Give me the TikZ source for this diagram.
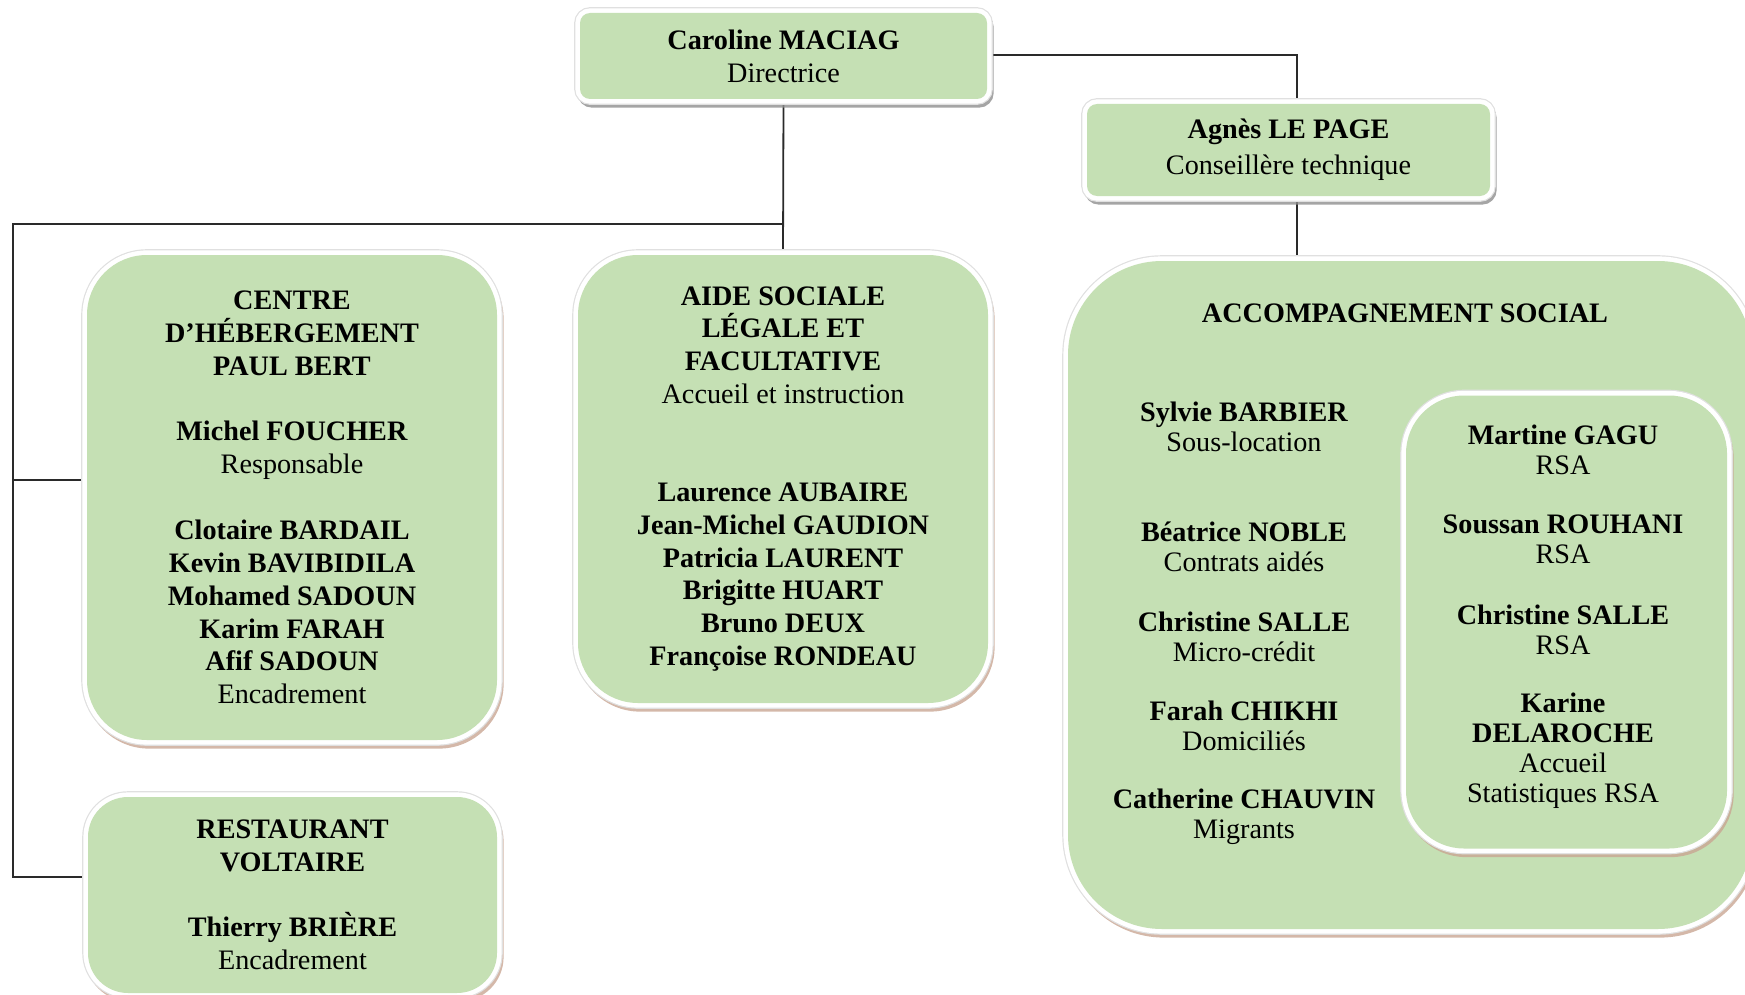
\documentclass[tikz,border=0pt]{standalone}
\usepackage{fontspec}
\setmainfont{Liberation Serif}
\usetikzlibrary{shadows,backgrounds}
\definecolor{boxgreen}{HTML}{C5E0B4}
\definecolor{shbrown}{HTML}{C9A693}
\definecolor{shgrey}{HTML}{8E8E8E}
\definecolor{linecol}{HTML}{2A2A2A}
\newcommand\mainfs{\fontsize{14.1}{16.45}\selectfont}
\newcommand\groupfs{\fontsize{14.1}{15}\selectfont}
\begin{document}
\begin{tikzpicture}[x=0.5pt,y=-0.5pt,
  every node/.style={inner sep=0pt, outer sep=0pt},
  framed/.style={fill=boxgreen,
    general shadow={fill=#1, draw=#1, line width=4.6pt, shadow xshift=1pt, shadow yshift=-2pt, opacity=0.8},
    preaction={draw=black!12, line width=5.8pt},
    preaction={draw=white, line width=4.6pt}},
  smallbox/.style={framed=shgrey, rounded corners=5pt, align=center, font=\mainfs},
  bigbox/.style={framed=shbrown, rounded corners=30pt, align=center, font=\mainfs},
  txt/.style={align=center, font=\groupfs},
  link/.style={draw=linecol, line width=0.9pt}]
\path[use as bounding box, clip] (0,0) rectangle (1745,995);

% boxes
\node[smallbox, minimum width=203.5pt, minimum height=43pt] (top) at (783.5,56)
  {\textbf{Caroline MACIAG}\\Directrice};
\node[smallbox, minimum width=201.5pt, minimum height=46pt] (agnes) at (1288.5,150)
  {\textbf{Agnès LE PAGE}\\[1.5pt]Conseillère technique};
\node[bigbox, minimum width=205pt, minimum height=242.5pt] (centre) at (292,497.5)
  {\textbf{CENTRE}\\\textbf{D’HÉBERGEMENT}\\\textbf{PAUL BERT}\\[16.3pt]
   \textbf{Michel FOUCHER}\\Responsable\\[16.3pt]
   \textbf{Clotaire BARDAIL}\\\textbf{Kevin BAVIBIDILA}\\\textbf{Mohamed SADOUN}\\
   \textbf{Karim FARAH}\\\textbf{Afif SADOUN}\\Encadrement};
\node[bigbox, minimum width=205pt, minimum height=224pt] (aide) at (783,479)
  {\textbf{AIDE SOCIALE}\\\textbf{LÉGALE ET}\\\textbf{FACULTATIVE}\\Accueil et instruction\\[32.3pt]
   \textbf{Laurence AUBAIRE}\\\textbf{Jean-Michel GAUDION}\\\textbf{Patricia LAURENT}\\
   \textbf{Brigitte HUART}\\\textbf{Bruno DEUX}\\\textbf{Françoise RONDEAU}};
\node[bigbox, rounded corners=20pt, minimum width=204.5pt, minimum height=98pt] (rest) at (292.5,895)
  {\textbf{RESTAURANT}\\\textbf{VOLTAIRE}\\[16.3pt]\textbf{Thierry BRIÈRE}\\Encadrement};
\node[bigbox, rounded corners=47pt, minimum width=342pt, minimum height=334pt] (acc) at (1410,595) {};
\node[bigbox, rounded corners=29pt, minimum width=160.5pt, minimum height=226.5pt] (accin) at (1566.5,622) {};

% texts in ACCOMPAGNEMENT SOCIAL
\node[txt] (acctitle) at (1405,313) {\textbf{ACCOMPAGNEMENT SOCIAL}};
\node[txt] (p1) at (1244,427) {\textbf{Sylvie BARBIER}\\Sous-location};
\node[txt] (p2) at (1244,547) {\textbf{Béatrice NOBLE}\\Contrats aidés};
\node[txt] (p3) at (1244,636.5) {\textbf{Christine SALLE}\\Micro-crédit};
\node[txt] (p4) at (1244,726) {\textbf{Farah CHIKHI}\\Domiciliés};
\node[txt] (p5) at (1244,816.5) {\textbf{Catherine CHAUVIN}\\Migrants};
\node[txt] (r1) at (1563,449.5) {\textbf{Martine GAGU}\\RSA};
\node[txt] (r2) at (1563,539.5) {\textbf{Soussan ROUHANI}\\RSA};
\node[txt] (r3) at (1563,629.5) {\textbf{Christine SALLE}\\RSA};
\node[txt] (r4) at (1563,750.5) {\textbf{Karine}\\\textbf{DELAROCHE}\\Accueil\\Statistiques RSA};

% connectors
\coordinate (a1) at (1297,55);
\coordinate (j) at (783.5,224);
\coordinate (l) at (13,224);
\coordinate (lc) at (13,480);
\coordinate (lr) at (13,877);
\begin{scope}[on background layer]
\draw[link] (top.east |- a1) -- (a1) -- (a1 |- agnes.north);
\draw[link] (a1 |- agnes.south) -- (a1 |- acc.north);
\draw[link] (top.south) -- (aide.north);
\draw[link] (j) -- (l) -- (lr) -- (lr -| rest.west);
\draw[link] (lc) -- (lc -| centre.west);
\end{scope}
\end{tikzpicture}
\end{document}
